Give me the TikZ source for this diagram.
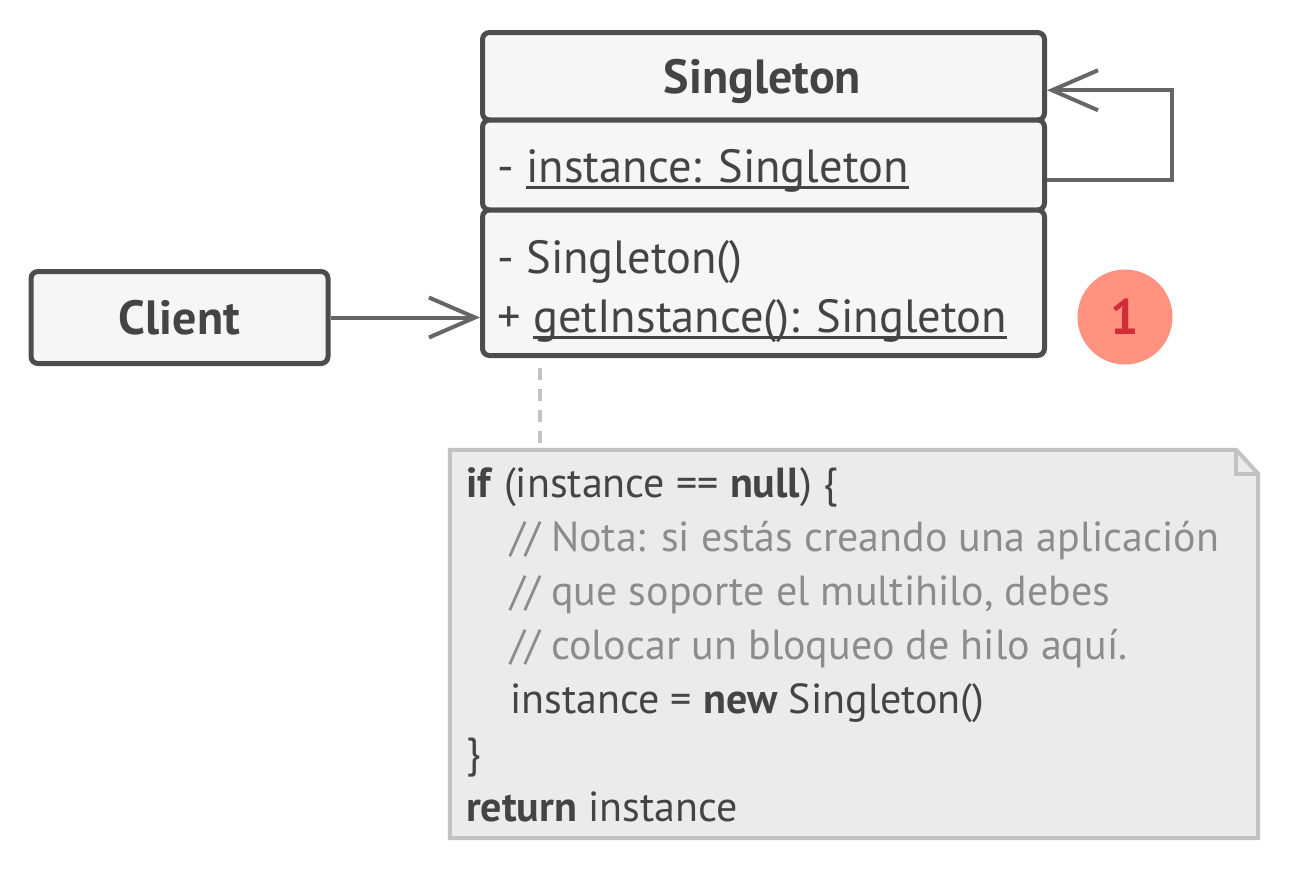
\documentclass[tikz,border=0pt]{standalone}
\usepackage{fontspec}
\setmainfont{PT Sans}
\usetikzlibrary{arrows.meta}
\definecolor{boxline}{HTML}{4D4D4D}
\definecolor{boxfill}{HTML}{F6F6F6}
\definecolor{conncol}{HTML}{666666}
\definecolor{txtcol}{HTML}{444444}
\definecolor{notefill}{HTML}{EBEBEB}
\definecolor{noteline}{HTML}{C2C2C2}
\definecolor{commentcol}{HTML}{8C8C8C}
\definecolor{badgefill}{HTML}{FF937F}
\definecolor{badgetext}{HTML}{CF2E3A}
\newlength\ulwd
\newcommand\myul[1]{\settowidth{\ulwd}{#1}\rlap{\rule[-6.5pt]{\ulwd}{2.6pt}}#1}
\tikzset{
  comp/.style={draw=boxline, fill=boxfill, line width=5pt, rounded corners=7pt, minimum width=562pt, inner sep=0pt, text=txtcol, font=\fontsize{46.5}{54}\selectfont},
  txt/.style={inner sep=0pt, text=txtcol, font=\fontsize{46.5}{54}\selectfont},
  boldtxt/.style={inner sep=0pt, text=txtcol, font=\fontsize{48}{54}\selectfont\bfseries},
  conn/.style={draw=conncol, line width=4pt, -{Straight Barb[length=46pt,width=40pt]}},
  notelink/.style={draw=noteline, line width=4pt, dash pattern=on 12pt off 9pt},
  notebody/.style={draw=noteline, fill=notefill, line width=4pt, line join=miter},
  noteedge/.style={draw=noteline, line width=4pt}
}
\begin{document}
\begin{tikzpicture}[x=1pt,y=-1pt]
\useasboundingbox (0,0) rectangle (1290,870);
% Singleton class compartments
\node[comp, minimum height=87.5pt] (head) at (763.5,76.25) {};
\node[comp, minimum height=90pt] (attr) at (763.5,165) {};
\node[comp, minimum height=145.5pt] (meth) at (763.5,282.75) {};
\node[boldtxt, anchor=base] (headtxt) at (762.5,93) {Singleton};
\node[txt, anchor=base west] (attrtxt) at (497,182) {- \myul{instance: Singleton}};
\node[txt, anchor=base west] (meth1) at (497,273) {- Singleton()};
\node[txt, anchor=base west] (meth2) at (497,332) {+ \myul{getInstance(): Singleton}};
% Client
\node[comp, minimum width=297pt, minimum height=92pt, font=\fontsize{48}{54}\selectfont\bfseries] (client) at (179.5,317.5) {Client};
% connectors
\draw[conn] (client.east) -- (meth.west |- client.east);
\draw[conn] ([yshift=-15pt]attr.east) -- ++(125,0) |- ([yshift=-14pt]head.east);
% badge
\node[circle, fill=badgefill, minimum size=95pt, inner sep=0pt] (badge) at (1125,317) {\fontsize{50}{50}\selectfont\bfseries\color{badgetext}1};
% note
\node[minimum width=808pt, minimum height=388pt, inner sep=0pt] (note) at (854,644) {};
\draw[notebody] (note.north west) -- ([xshift=-22pt]note.north east) -- ([yshift=-24pt]note.north east) -- (note.south east) -- (note.south west) -- cycle;
\draw[noteedge] ([xshift=-22pt]note.north east) -- ++(0,24) -- ([yshift=-24pt]note.north east);
\coordinate (linktop) at ([xshift=90pt]note.north west |- meth.south);
\draw[notelink] ([yshift=-10pt]linktop) -- ([xshift=90pt]note.north west);
\node[anchor=north west, inner sep=0pt, align=left, text=txtcol, font=\fontsize{42}{54}\selectfont] (code) at (466,467) {%
\textbf{if} (instance == \textbf{null}) \{\\
\hspace*{44pt}{\color{commentcol}// Nota: si estás creando una aplicación}\\
\hspace*{44pt}{\color{commentcol}// que soporte el multihilo, debes}\\
\hspace*{44pt}{\color{commentcol}// colocar un bloqueo de hilo aquí.}\\
\hspace*{44pt}instance = \textbf{new} Singleton()\\
\}\\
\textbf{return} instance};
\end{tikzpicture}
\end{document}
